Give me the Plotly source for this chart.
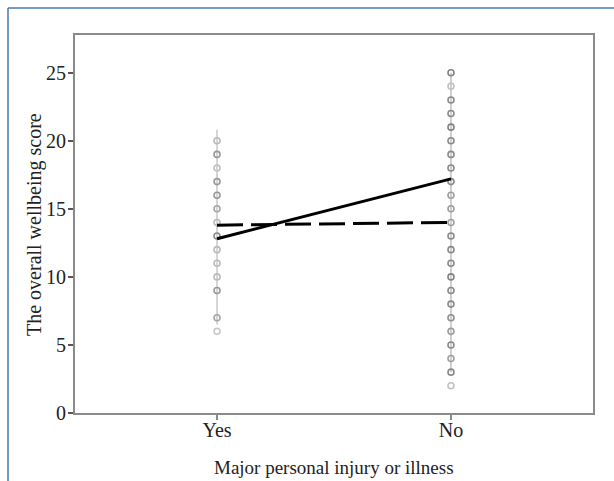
import plotly.graph_objects as go

categories = ["Yes", "No"]

# observed score values per group and the shade (darkness 0-1) of each marker
yes_scores = [20, 19, 18, 17, 16, 15, 14, 13, 12, 11, 10, 9, 7, 6]
yes_shade = [0.35, 0.6, 0.3, 0.6, 0.6, 0.5, 0.35, 0.7, 0.35, 0.35, 0.35, 0.6, 0.5, 0.25]
no_scores = [25, 24, 23, 22, 21, 20, 19, 18, 17, 16, 15, 14, 13, 12, 11, 10, 9, 8, 7, 6, 5, 4, 3, 2]
no_shade = [0.75, 0.3, 0.7, 0.7, 0.75, 0.7, 0.7, 0.7, 0.7, 0.55, 0.55, 0.55, 0.7, 0.7, 0.7, 0.75, 0.7, 0.7, 0.65, 0.55, 0.7, 0.55, 0.7, 0.3]

# range lines through each group
yes_range = [6.5, 20.8]
no_range = [3.0, 25.0]

# fitted lines
solid_vals = [12.8, 17.2]
dashed_vals = [13.8, 14.0]

x_title = "Major personal injury or illness"
y_title = "The overall wellbeing score"


def shade_color(s):
    v = int(round(235 - s * 140))
    return f"rgb({v},{v},{v})"


fig = go.Figure()

fig.add_trace(go.Scatter(x=[categories[0]] * 2, y=yes_range, mode="lines",
                         line=dict(color="#c8c8c8", width=1.5), showlegend=False, hoverinfo="skip"))
fig.add_trace(go.Scatter(x=[categories[1]] * 2, y=no_range, mode="lines",
                         line=dict(color="#c0c0c0", width=1.5), showlegend=False, hoverinfo="skip"))

fig.add_trace(go.Scatter(x=[categories[0]] * len(yes_scores), y=yes_scores, mode="markers",
                         marker=dict(symbol="circle-open", size=6,
                                     color=[shade_color(s) for s in yes_shade],
                                     line=dict(width=1.6)),
                         showlegend=False))
fig.add_trace(go.Scatter(x=[categories[1]] * len(no_scores), y=no_scores, mode="markers",
                         marker=dict(symbol="circle-open", size=6,
                                     color=[shade_color(s) for s in no_shade],
                                     line=dict(width=1.6)),
                         showlegend=False))

fig.add_trace(go.Scatter(x=categories, y=dashed_vals, mode="lines",
                         line=dict(color="black", width=3, dash="26px,8px"), showlegend=False))
fig.add_trace(go.Scatter(x=categories, y=solid_vals, mode="lines",
                         line=dict(color="black", width=3), showlegend=False))

font_family = "Liberation Serif"

L, R, T, B = 75, 21, 35, 68
W, H = 614, 481
pw = W - L - R
ph = H - T - B


def px_x(x):
    return (x - L) / pw


def px_y(y):
    return (H - B - y) / ph


fig.update_layout(
    width=W, height=H,
    margin=dict(l=L, r=R, t=T, b=B),
    paper_bgcolor="white", plot_bgcolor="white",
    font=dict(family=font_family, size=20, color="#222"),
    xaxis=dict(
        type="category", range=[-0.607, 1.607],
        showline=True, linecolor="#8a8a8a", linewidth=2, mirror=True,
        ticks="outside", ticklen=5, tickcolor="#8a8a8a", tickwidth=1.5,
        showgrid=False, zeroline=False, ticklabelstandoff=-7,
        tickfont=dict(family=font_family, size=20, color="#222"),
    ),
    yaxis=dict(
        range=[0, 27.77], tickvals=[0, 5, 10, 15, 20, 25],
        showline=True, linecolor="#8a8a8a", linewidth=2, mirror=True,
        ticks="outside", ticklen=5, tickcolor="#555", tickwidth=1.5,
        showgrid=False, zeroline=False, ticklabelstandoff=-2,
        tickfont=dict(family=font_family, size=20, color="#222"),
    ),
    annotations=[
        dict(text=x_title, xref="paper", yref="paper", x=px_x(334), y=px_y(467),
             xanchor="center", yanchor="middle", showarrow=False,
             font=dict(family=font_family, size=19, color="#222")),
        dict(text=y_title, xref="paper", yref="paper", x=px_x(34), y=px_y(225),
             xanchor="center", yanchor="middle", showarrow=False, textangle=-90,
             font=dict(family=font_family, size=20, color="#222")),
    ],
    shapes=[
        dict(type="line", xref="paper", yref="paper", x0=px_x(8), x1=px_x(8), y0=px_y(8), y1=px_y(H),
             line=dict(color="#4a76b8", width=1.5)),
        dict(type="line", xref="paper", yref="paper", x0=px_x(8), x1=px_x(W), y0=px_y(8), y1=px_y(8),
             line=dict(color="#4a76b8", width=1.5)),
    ],
)

fig.write_html("out.html", post_script="document.body.style.margin='0';",
               config={"displayModeBar": False})
